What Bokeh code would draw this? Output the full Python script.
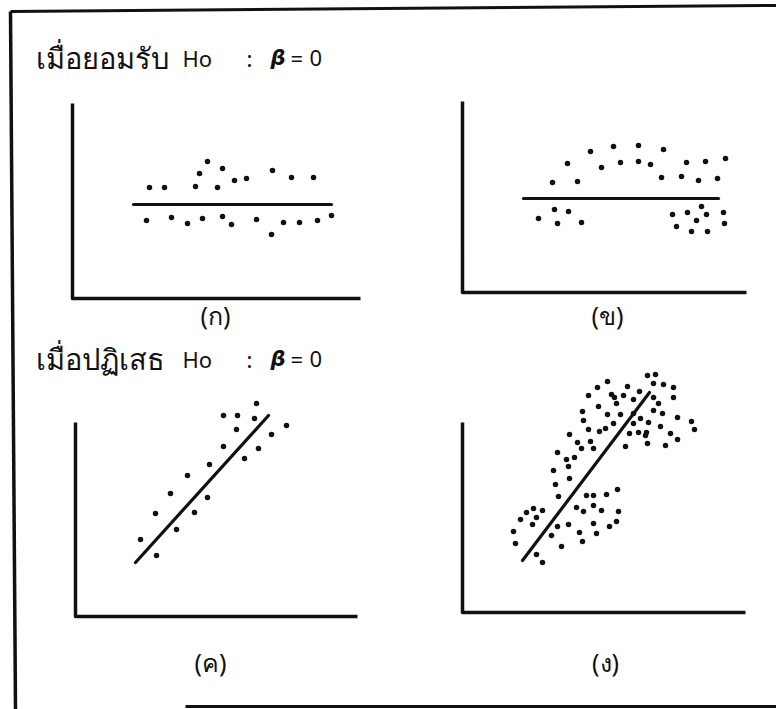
from bokeh.plotting import figure
from bokeh.models import Range1d
from bokeh.core.properties import value
from bokeh.embed import file_html
from bokeh.resources import INLINE

# ---------------------------------------------------------------------------
# Scatter data for the four panels (units: offset from each panel's origin)
# ---------------------------------------------------------------------------

# (ก) no relationship: points scattered evenly about a flat line
a_x = [77, 92, 123, 127, 135, 145, 150, 162, 174, 200, 219, 241,
       74, 99, 115, 130, 150, 159, 184, 199, 211, 227, 245, 259]
a_y = [111, 111, 112, 125, 137, 111, 130, 118, 120, 128, 121, 121,
       78, 81, 75, 80, 82, 74, 79, 64, 76, 76, 78, 83]
a_fit_x = [61, 259]
a_fit_y = [94, 94]

# (ข) curved pattern: arch above, clusters below at both ends
b_x = [90, 105, 115, 128, 139, 151, 158, 176, 176, 188, 201, 199, 219, 224,
       236, 243, 255, 263,
       76, 92, 95, 106, 119,
       210, 214, 225, 229, 234, 239, 244, 245, 261, 262]
b_y = [110, 129, 111, 141, 125, 146, 130, 147, 131, 128, 143, 115, 116, 130,
       112, 131, 114, 134,
       74, 83, 69, 81, 70,
       78, 66, 80, 61, 72, 86, 78, 61, 80, 69]
b_fit_x = [61, 256]
b_fit_y = [94, 94]

# (ค) clear linear trend
c_x = [65, 81, 80, 95, 101, 112, 119, 132, 134, 148, 148, 162, 161, 169,
       179, 181, 183, 196, 211]
c_y = [77, 61, 103, 123, 87, 141, 104, 119, 152, 170, 201, 201, 187, 158,
       198, 213, 168, 182, 191]
c_fit_x = [60, 193]
c_fit_y = [54, 201]

# (ง) linear trend with two separated clouds
d_x = [135, 145, 165, 191, 201, 211, 126, 149, 152, 161, 171, 177, 191, 196,
       211, 136, 154, 120, 145, 158, 171, 191, 200, 215, 229, 232, 121, 126,
       137, 143, 151, 171, 178, 186, 198, 208, 215, 107, 115, 128, 131, 119,
       167, 176, 184, 183, 163, 185, 203, 95, 104, 112, 106, 91, 107, 93,
       96, 124, 131, 144, 155, 114, 131, 121, 139, 156, 71, 80, 64, 74, 58,
       70, 95, 106, 131, 147, 154, 51, 89, 117, 134, 53, 99, 120, 74, 80,
       185, 193]
d_y = [225, 231, 226, 229, 228, 225, 217, 218, 215, 217, 213, 221, 215, 209,
       215, 206, 209, 201, 198, 198, 199, 202, 199, 195, 191, 183, 192, 183,
       181, 184, 189, 189, 194, 190, 186, 179, 173, 178, 170, 171, 164, 164,
       179, 180, 180, 177, 166, 169, 167, 160, 153, 155, 146, 142, 134, 128,
       116, 117, 117, 118, 123, 105, 107, 101, 102, 101, 104, 102, 100, 95, 93,
       88, 86, 88, 89, 86, 91, 81, 77, 80, 79, 69, 66, 71, 58, 50,
       237, 238]
d_fit_x = [60, 187]
d_fit_y = [52, 220]

# ---------------------------------------------------------------------------
# Page canvas
# ---------------------------------------------------------------------------
W, H = 776, 709
INK = "#111111"

p = figure(width=W, height=H, x_range=Range1d(0, W), y_range=Range1d(H, 0),
           output_backend="svg", toolbar_location=None, min_border=0,
           background_fill_color="white", border_fill_color="white")
p.axis.visible = False
p.grid.visible = False
p.outline_line_color = None

# outer frame (top, left and bottom edges)
p.line([10, 776], [11, 5], line_color=INK, line_width=3)
p.line([10, 15], [11, 709], line_color=INK, line_width=3.5)
p.line([185, 776], [706, 706], line_color=INK, line_width=3)

# panel layout: origin on the page and length of the two axis arms
panels = [
    ("A", (72, 298), 288, 195, a_x, a_y, a_fit_x, a_fit_y),
    ("B", (462, 292), 284, 191, b_x, b_y, b_fit_x, b_fit_y),
    ("C", (75, 616), 282, 194, c_x, c_y, c_fit_x, c_fit_y),
    ("D", (462, 612), 283, 190, d_x, d_y, d_fit_x, d_fit_y),
]

for name, (ox, oy), xlen, ylen, xs, ys, fx, fy in panels:
    xr, yr = "x_" + name, "y_" + name
    p.extra_x_ranges[xr] = Range1d(-ox, W - ox)
    p.extra_y_ranges[yr] = Range1d(oy - H, oy)
    kw = dict(x_range_name=xr, y_range_name=yr)
    # L-shaped axes
    p.line([0, 0, xlen], [ylen, 0, 0], line_color=INK, line_width=3.5,
           line_join="round", **kw)
    # fitted line
    p.line(fx, fy, line_color=INK, line_width=3.2, line_cap="round", **kw)
    # observations
    p.scatter(xs, ys, size=5.5, marker="circle", fill_color=INK,
              line_color=None, **kw)

# ---------------------------------------------------------------------------
# Headings and panel labels
# ---------------------------------------------------------------------------
SANS = value("Noto Sans")


def heading(y, thai):
    p.text([35], [y], text=[thai], text_font=SANS, text_font_size="29px",
           text_baseline="alphabetic", text_color=INK)
    common = dict(text_font=SANS, text_font_size="22px",
                  text_baseline="alphabetic", text_color=INK)
    p.text([182], [y], text=["Ho"], **common)
    p.text([246], [y], text=[":"], **common)
    p.text([270], [y], text=["β"], text_font=value("DejaVu Sans"),
           text_font_size="21px", text_font_style="bold italic",
           text_baseline="alphabetic", text_color=INK)
    p.text([290], [y], text=["="], **common)
    p.text([309], [y], text=["0"], **common)


heading(57, "เมื่อยอมรับ")
heading(358, "เมื่อปฏิเสธ")

label_x = [215, 607, 210, 605]
label_y = [314, 314, 661, 661]
labels = ["(ก)", "(ข)", "(ค)", "(ง)"]
p.text(label_x, label_y, text=labels, text_font=SANS, text_font_size="25px",
       text_align="center", text_baseline="middle", text_color=INK)

open("out.html", "w").write(file_html(p, INLINE))
